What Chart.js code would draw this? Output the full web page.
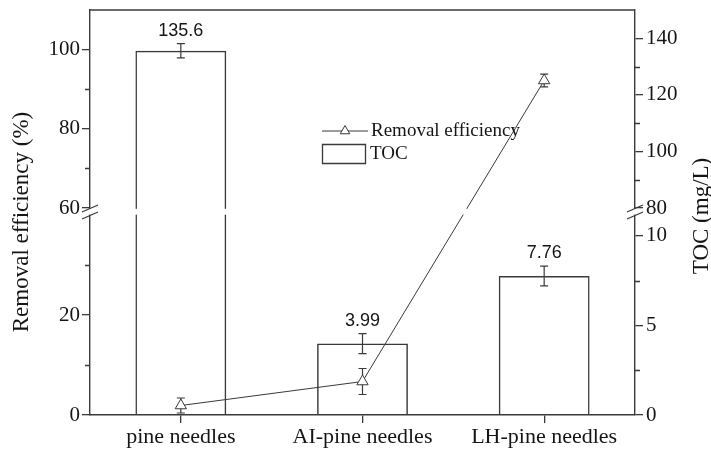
<!DOCTYPE html>
<html>
<head>
<meta charset="utf-8">
<script src="https://cdn.jsdelivr.net/npm/chart.js@4/dist/chart.umd.min.js"></script>
<style>html,body{margin:0;padding:0;background:#fff;}canvas{display:block;}</style>
</head>
<body>
<canvas id="c" width="711" height="453"></canvas>
<script>
// ---- data ----
const categories = ['pine needles', 'AI-pine needles', 'LH-pine needles'];
const tocValues = [135.6, 3.99, 7.76];
const tocErrors = [2.5, 0.56, 0.55];
const removalValues = [1.9, 6.7, 92.2];
const removalErrors = [1.5, 2.6, 1.6];
const leftMajorTicks = [0, 20, 60, 80, 100];
const leftMinorTicks = [10, 30, 70, 90];
const rightMajorTicks = [0, 5, 10, 80, 100, 120, 140];
const rightMinorTicks = [2.5, 7.5, 90, 110, 130];
const leftBreak = [0, 40, 60, 110];
const rightBreak = [0, 11.17, 80, 150];
const seriesNames = ['Removal efficiency', 'TOC'];

// ---- style ----
const LINE = '#3a3a3a';
const TEXT = '#151515';
const SERIF = '"Liberation Serif", "Times New Roman", serif';
const SANS = '"Liberation Sans", Arial, sans-serif';
const LOW_END = 0.4938, HIGH_START = 0.5111;

class BrokenLinearScale extends Chart.LinearScale {
  _brk() { return this.id === 'yL' ? leftBreak : rightBreak; }
  getPixelForValue(value) {
    if (value === null || value === undefined || isNaN(value)) return NaN;
    const [a, b, c, d] = this._brk();
    let dec;
    if (value <= b) dec = (value - a) / (b - a) * LOW_END;
    else if (value >= c) dec = HIGH_START + (value - c) / (d - c) * (1 - HIGH_START);
    else dec = LOW_END + (value - b) / (c - b) * (HIGH_START - LOW_END);
    return this.getPixelForDecimal(dec);
  }
  getValueForPixel(pixel) {
    const [a, b, c, d] = this._brk();
    const dec = this.getDecimalForPixel(pixel);
    if (dec <= LOW_END) return a + dec / LOW_END * (b - a);
    if (dec >= HIGH_START) return c + (dec - HIGH_START) / (1 - HIGH_START) * (d - c);
    return b + (dec - LOW_END) / (HIGH_START - LOW_END) * (c - b);
  }
}
BrokenLinearScale.id = 'brokenLinear';
BrokenLinearScale.defaults = Chart.LinearScale.defaults;
Chart.register(BrokenLinearScale);

function errBar(ctx, x, y1, y2, half) {
  ctx.beginPath();
  ctx.moveTo(x, y1); ctx.lineTo(x, y2);
  ctx.moveTo(x - half, y1); ctx.lineTo(x + half, y1);
  ctx.moveTo(x - half, y2); ctx.lineTo(x + half, y2);
  ctx.stroke();
}

const decor = {
  id: 'decor',
  beforeDraw(chart) {
    const ctx = chart.ctx;
    ctx.save(); ctx.fillStyle = '#fff'; ctx.fillRect(0, 0, chart.width, chart.height); ctx.restore();
  },
  beforeDatasetsDraw(chart) {
    const ctx = chart.ctx, yL = chart.scales.yL, yR = chart.scales.yR;
    ctx.save();
    ctx.strokeStyle = LINE; ctx.lineWidth = 1.2;
    chart.getDatasetMeta(1).data.forEach((el, i) => {
      errBar(ctx, el.x, yR.getPixelForValue(tocValues[i] + tocErrors[i]), yR.getPixelForValue(tocValues[i] - tocErrors[i]), 4);
    });
    chart.getDatasetMeta(0).data.forEach((el, i) => {
      errBar(ctx, el.x, yL.getPixelForValue(removalValues[i] + removalErrors[i]), yL.getPixelForValue(removalValues[i] - removalErrors[i]), 4);
    });
    ctx.restore();
  },
  afterDatasetsDraw(chart) {
    const ctx = chart.ctx, yR = chart.scales.yR;
    ctx.save();
    ctx.fillStyle = TEXT; ctx.font = '18px ' + SANS; ctx.textAlign = 'center'; ctx.textBaseline = 'middle';
    chart.getDatasetMeta(1).data.forEach((el, i) => {
      const top = yR.getPixelForValue(tocValues[i] + tocErrors[i]);
      ctx.fillText(String(tocValues[i]), el.x, top - 13);
    });
    // legend
    ctx.strokeStyle = LINE; ctx.lineWidth = 1;
    ctx.beginPath(); ctx.moveTo(322, 131); ctx.lineTo(368, 131); ctx.stroke();
    ctx.fillStyle = '#fff';
    Chart.helpers.drawPoint(ctx, {pointStyle: 'triangle', radius: 5.5, borderWidth: 1, rotation: 0}, 345, 131);
    ctx.beginPath();
    ctx.rect(322.5, 144.5, 43, 19); ctx.lineWidth = 1.3; ctx.stroke();
    ctx.fillStyle = TEXT; ctx.font = '19px ' + SERIF; ctx.textAlign = 'left'; ctx.textBaseline = 'middle';
    ctx.fillText(seriesNames[0], 371, 131);
    ctx.fillText(seriesNames[1], 370, 154);
    ctx.restore();
  },
  afterDraw(chart) {
    const ctx = chart.ctx, a = chart.chartArea, yL = chart.scales.yL, yR = chart.scales.yR;
    ctx.save();
    ctx.strokeStyle = LINE; ctx.lineWidth = 1.4;
    ctx.beginPath(); ctx.moveTo(a.left, a.top); ctx.lineTo(a.right, a.top); ctx.stroke();
    ctx.beginPath();
    leftMinorTicks.forEach(v => { const y = Math.round(yL.getPixelForValue(v)) + 0.5; ctx.moveTo(a.left - 5, y); ctx.lineTo(a.left, y); });
    rightMinorTicks.forEach(v => { const y = Math.round(yR.getPixelForValue(v)) + 0.5; ctx.moveTo(a.right, y); ctx.lineTo(a.right + 5, y); });
    ctx.stroke();
    const yHi = yL.getPixelForValue(leftBreak[2]);
    const yLo = yL.getPixelForValue(leftBreak[1]);
    ctx.fillStyle = '#fff';
    ctx.fillRect(a.left - 3, yHi + 0.8, a.right - a.left + 6, yLo - yHi - 1.2);
    ctx.lineWidth = 1.3;
    [a.left, a.right].forEach(x => {
      ctx.beginPath();
      ctx.moveTo(x - 8, yHi + 4); ctx.lineTo(x + 8, yHi - 3);
      ctx.moveTo(x - 8, yLo + 4); ctx.lineTo(x + 8, yLo - 3);
      ctx.stroke();
    });
    ctx.fillStyle = TEXT; ctx.font = '23px ' + SERIF; ctx.textAlign = 'center'; ctx.textBaseline = 'middle';
    ctx.translate(22, 222); ctx.rotate(-Math.PI / 2);
    ctx.fillText('Removal efficiency (%)', 0, 0);
    ctx.setTransform(1, 0, 0, 1, 0, 0);
    ctx.translate(702, 216); ctx.rotate(-Math.PI / 2);
    ctx.fillText('TOC (mg/L)', 0, 0);
    ctx.restore();
  }
};

function zeroPad(s) { s.paddingTop = 0; s.paddingBottom = 0; s.paddingLeft = 0; s.paddingRight = 0; }
const tickFont = {family: SERIF, size: 21};
new Chart(document.getElementById('c'), {
  type: 'bar',
  data: {
    labels: categories,
    datasets: [
      {
        type: 'line', label: seriesNames[0], data: removalValues, yAxisID: 'yL', order: 0,
        borderColor: LINE, borderWidth: 1, tension: 0, fill: false,
        pointStyle: 'triangle', pointRadius: 6.5, pointBackgroundColor: '#fff',
        pointBorderColor: LINE, pointBorderWidth: 1
      },
      {
        type: 'bar', label: seriesNames[1], data: tocValues, yAxisID: 'yR', order: 1,
        backgroundColor: 'rgba(0,0,0,0)', borderColor: LINE, borderWidth: 1.5,
        barPercentage: 0.5, categoryPercentage: 1.0, borderSkipped: 'bottom'
      }
    ]
  },
  options: {
    responsive: false, animation: false, events: [],
    layout: {padding: {top: 10, left: 0, right: 0, bottom: 0}},
    plugins: {legend: {display: false}, tooltip: {enabled: false}},
    scales: {
      x: {
        type: 'category', offset: true,
        grid: {display: true, drawOnChartArea: false, drawTicks: true, tickLength: 8, offset: false, color: LINE, lineWidth: 1.3},
        border: {display: true, color: LINE, width: 1.4},
        ticks: {color: TEXT, font: {family: SERIF, size: 22}, padding: 1, maxRotation: 0, autoSkip: false},
        afterFit: s => { s.height = 38; zeroPad(s); }
      },
      yL: {
        type: 'brokenLinear', position: 'left', min: leftBreak[0], max: leftBreak[3],
        afterBuildTicks: s => { s.ticks = leftMajorTicks.map(v => ({value: v})); },
        grid: {display: true, drawOnChartArea: false, drawTicks: true, tickLength: 8, color: LINE, lineWidth: 1.3},
        border: {display: true, color: LINE, width: 1.4},
        ticks: {color: TEXT, font: tickFont, padding: 2, autoSkip: false, callback: v => String(v)},
        afterFit: s => { s.width = 90; zeroPad(s); }
      },
      yR: {
        type: 'brokenLinear', position: 'right', min: rightBreak[0], max: rightBreak[3],
        afterBuildTicks: s => { s.ticks = rightMajorTicks.map(v => ({value: v})); },
        grid: {display: true, drawOnChartArea: false, drawTicks: true, tickLength: 8, color: LINE, lineWidth: 1.3},
        border: {display: true, color: LINE, width: 1.4},
        ticks: {color: TEXT, font: tickFont, padding: 3, autoSkip: false, callback: v => String(v)},
        afterFit: s => { s.width = 76; zeroPad(s); }
      }
    }
  },
  plugins: [decor]
});
</script>
</body>
</html>
